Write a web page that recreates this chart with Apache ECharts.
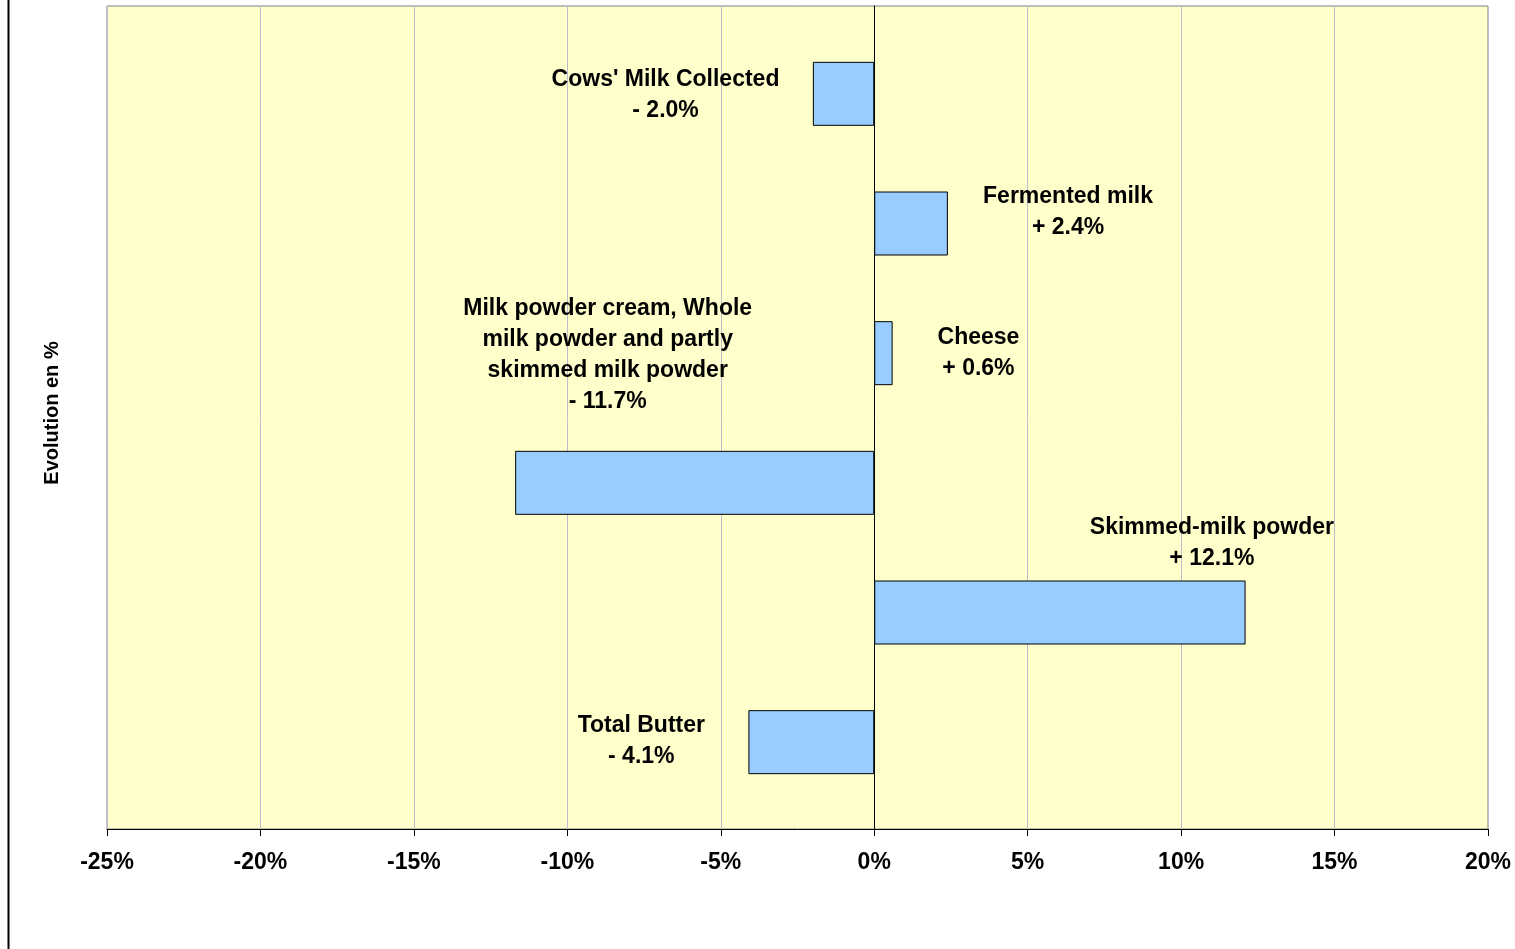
<!DOCTYPE html>
<html>
<head>
<meta charset="utf-8">
<script src="https://cdn.jsdelivr.net/npm/echarts@6/dist/echarts.min.js"></script>
<style>
  html, body { margin: 0; padding: 0; background: #fff; }
  #chart { width: 1515px; height: 949px; }
</style>
</head>
<body>
<div id="chart"></div>
<script>
// categories from top to bottom
var categories = [
  "Cows' Milk Collected",
  'Fermented milk',
  'Cheese',
  'Milk powder cream, Whole\nmilk powder and partly\nskimmed milk powder',
  'Skimmed-milk powder',
  'Total Butter'
];
var evolution = [-2.0, 2.4, 0.6, -11.7, 12.1, -4.1]; // % change
var xTicks = { min: -25, max: 20, step: 5 };
var axisTitle = 'Evolution en %';

// where each data label sits, relative to its bar centre (manual placement like the original)
var labelOffsets = [[-178, 1], [157, -11], [95, 0], [-87, -128], [152, -69], [-170, -1]];

var font = 'Liberation Sans, Arial, sans-serif';

function fmt(v) {
  return (v < 0 ? '- ' : '+ ') + Math.abs(v).toFixed(1) + '%';
}

var chart = echarts.init(document.getElementById('chart'));

var barData = evolution.map(function (v, i) {
  return {
    value: v,
    label: {
      show: true,
      position: 'inside',
      offset: labelOffsets[i],
      formatter: categories[i] + '\n' + fmt(v)
    }
  };
});

chart.setOption({
  backgroundColor: '#fff',
  animation: false,
  grid: [
    { // the yellow plot area with grid lines and the axis
      left: 107, top: 6, width: 1381, height: 823,
      show: true, backgroundColor: '#FFFFCC', borderColor: '#808080', borderWidth: 1
    },
    { // bars, a bit inset like the original
      left: 107, top: 29, width: 1381, height: 778
    }
  ],
  xAxis: [
    {
      gridIndex: 0, type: 'value',
      min: xTicks.min, max: xTicks.max, interval: xTicks.step,
      axisLine: { show: true, onZero: false, lineStyle: { color: '#000', width: 1 } },
      axisTick: { show: true, length: 7, lineStyle: { color: '#000' } },
      axisLabel: {
        formatter: '{value}%', color: '#000', fontFamily: font,
        fontWeight: 'bold', fontSize: 23, margin: 22
      },
      splitLine: { show: true, lineStyle: { color: '#BDBDCF', width: 1 } }
    },
    {
      gridIndex: 1, type: 'value',
      min: xTicks.min, max: xTicks.max, interval: xTicks.step,
      show: false
    }
  ],
  yAxis: [
    {
      gridIndex: 0, type: 'category', data: [''],
      axisLine: { show: true, lineStyle: { color: '#000', width: 1 } },
      axisTick: { show: false },
      axisLabel: { show: false },
      splitLine: { show: false }
    },
    {
      gridIndex: 1, type: 'category', data: categories, inverse: true,
      show: false
    }
  ],
  graphic: [
    {
      type: 'line', silent: true,
      shape: { x1: 8.5, y1: 0, x2: 8.5, y2: 949 },
      style: { stroke: '#000', lineWidth: 2 }
    },
    {
      type: 'text', x: 52, y: 413, rotation: Math.PI / 2,
      style: {
        text: axisTitle, fill: '#000', font: 'bold 20px ' + font,
        textAlign: 'center', textVerticalAlign: 'middle'
      }
    }
  ],
  series: [{
    type: 'bar',
    xAxisIndex: 1, yAxisIndex: 1,
    data: barData,
    barWidth: 64,
    itemStyle: { color: '#99CCFF', borderColor: '#000', borderWidth: 1 },
    label: {
      color: '#000', fontFamily: font, fontWeight: 'bold',
      fontSize: 23, lineHeight: 31, align: 'center', verticalAlign: 'middle'
    }
  }]
});
</script>
</body>
</html>
